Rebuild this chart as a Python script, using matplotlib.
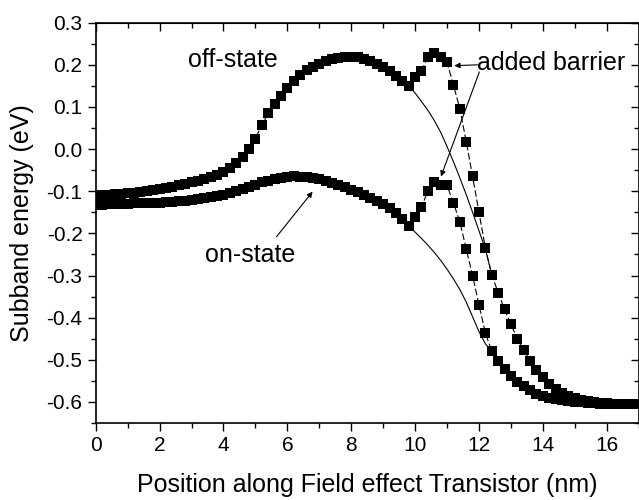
import numpy as np
import matplotlib
matplotlib.use("Agg")
import matplotlib.pyplot as plt
from matplotlib.ticker import MultipleLocator, FormatStrFormatter

# sampling grid along the device (nm), 0.2 nm steps
position = np.linspace(0, 17, 86)

# subband energy with the added barrier (eV)
off_state = [
    -0.112, -0.110, -0.109, -0.107, -0.106, -0.104, -0.103, -0.101, -0.099, -0.097,
    -0.094, -0.092, -0.089, -0.086, -0.083, -0.079, -0.075, -0.071, -0.066, -0.061,
    -0.054, -0.045, -0.033, -0.018, 0.000, 0.025, 0.057, 0.085, 0.108, 0.127,
    0.145, 0.162, 0.176, 0.187, 0.196, 0.203, 0.208, 0.213, 0.216, 0.218,
    0.219, 0.218, 0.215, 0.210, 0.203, 0.195, 0.185, 0.174, 0.162, 0.149,
    0.170, 0.186, 0.218, 0.228, 0.218, 0.206, 0.152, 0.096, 0.018, -0.065,
    -0.150, -0.235, -0.298, -0.341, -0.380, -0.416, -0.450, -0.477, -0.502, -0.524,
    -0.542, -0.558, -0.570, -0.579, -0.586, -0.591, -0.595, -0.598, -0.600, -0.602,
    -0.603, -0.604, -0.605, -0.605, -0.606, -0.606,
]
on_state = [
    -0.132, -0.132, -0.131, -0.131, -0.130, -0.130, -0.129, -0.129, -0.128, -0.127,
    -0.127, -0.126, -0.125, -0.124, -0.122, -0.120, -0.118, -0.116, -0.114, -0.111,
    -0.108, -0.104, -0.100, -0.095, -0.089, -0.084, -0.079, -0.075, -0.071, -0.068,
    -0.066, -0.065, -0.066, -0.067, -0.069, -0.072, -0.076, -0.080, -0.085, -0.090,
    -0.096, -0.102, -0.108, -0.115, -0.122, -0.130, -0.140, -0.152, -0.166, -0.182,
    -0.160, -0.137, -0.100, -0.079, -0.085, -0.086, -0.128, -0.172, -0.237, -0.300,
    -0.370, -0.436, -0.480, -0.502, -0.521, -0.538, -0.552, -0.563, -0.572, -0.580,
    -0.586, -0.590, -0.594, -0.596, -0.598, -0.600, -0.601, -0.602, -0.603, -0.604,
    -0.604, -0.605, -0.605, -0.605, -0.606, -0.606,
]

# original profiles without the barrier, where they differ (9.8 - 12.4 nm)
plain_position = position[49:63]
off_plain = [0.149, 0.133, 0.113, 0.092, 0.068, 0.040, 0.006,
             -0.030, -0.068, -0.108, -0.150, -0.194, -0.237, -0.298]
on_plain = [-0.182, -0.197, -0.212, -0.228, -0.245, -0.264, -0.285,
            -0.308, -0.333, -0.363, -0.398, -0.433, -0.462, -0.480]

plt.rcParams["font.family"] = ["Liberation Sans", "DejaVu Sans"]
plt.rcParams["axes.unicode_minus"] = False

fig = plt.figure(figsize=(6.39, 5.0), dpi=100)
ax = fig.add_axes([0.1498, 0.154, 0.8497, 0.8006])

for plain in (off_plain, on_plain):
    ax.plot(plain_position, plain, color="black", linewidth=0.8)
for series in (off_state, on_state):
    ax.plot(position, series, color="black", linewidth=0.8, linestyle=(0, (6, 2.5)),
            marker="s", markersize=6.6, markeredgewidth=0)

ax.set_xlim(0, 17)
ax.set_ylim(-0.65, 0.3)
ax.xaxis.set_major_locator(MultipleLocator(2))
ax.xaxis.set_minor_locator(MultipleLocator(1))
ax.yaxis.set_major_locator(MultipleLocator(0.1))
ax.yaxis.set_minor_locator(MultipleLocator(0.05))
ax.yaxis.set_major_formatter(FormatStrFormatter("%.1f"))

for side in ax.spines.values():
    side.set_linewidth(1.2)
ax.tick_params(which="both", direction="out", top=False, right=False, width=1.0,
               labelsize=15)
ax.tick_params(which="major", length=6, pad=3.5)
ax.tick_params(which="minor", length=3.5)

# inward mirrored ticks on top and right
top = ax.secondary_xaxis("top")
top.xaxis.set_major_locator(MultipleLocator(2))
top.xaxis.set_minor_locator(MultipleLocator(1))
top.tick_params(which="both", direction="in", labeltop=False, width=1.0)
top.tick_params(which="major", length=6)
top.tick_params(which="minor", length=3.5)
right = ax.secondary_yaxis("right")
right.yaxis.set_major_locator(MultipleLocator(0.1))
right.yaxis.set_minor_locator(MultipleLocator(0.05))
right.tick_params(which="both", direction="in", labelright=False, width=1.0)
right.tick_params(which="major", length=6)
right.tick_params(which="minor", length=3.5)

ax.set_xlabel("Position along Field effect Transistor (nm)", fontsize=18, labelpad=13)
ax.set_ylabel("Subband energy (eV)", fontsize=18, labelpad=9)

ax.text(4.29, 0.196, "off-state", fontsize=18, ha="center", va="baseline")
ax.text(14.27, 0.188, "added barrier", fontsize=18, ha="center", va="baseline")
ax.text(4.83, -0.267, "on-state", fontsize=18, ha="center", va="baseline")

arrow = dict(arrowstyle="-|>", color="black", linewidth=0.8, mutation_scale=8,
             shrinkA=0, shrinkB=0)
ax.annotate("", xy=(6.79, -0.101), xytext=(5.66, -0.208), arrowprops=arrow)
ax.annotate("", xy=(11.23, 0.198), xytext=(11.95, 0.200), arrowprops=arrow)
ax.annotate("", xy=(10.81, -0.065), xytext=(12.01, 0.183), arrowprops=arrow)

fig.savefig("out.png", dpi=100)
